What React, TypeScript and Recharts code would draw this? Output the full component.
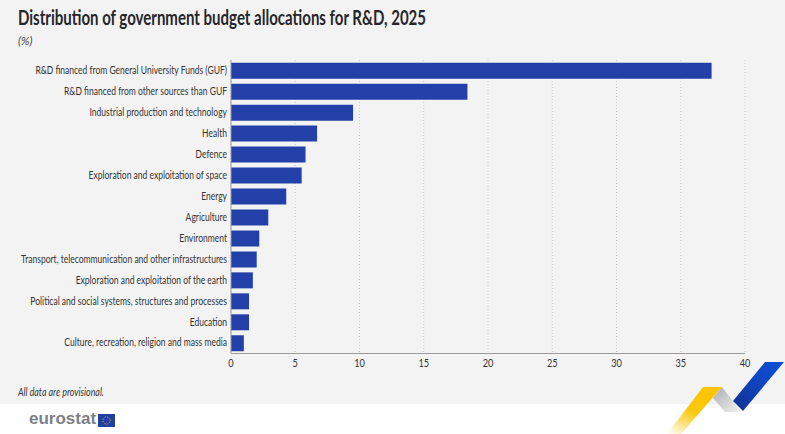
import { BarChart, Bar, XAxis, YAxis, CartesianGrid } from "recharts";

const categories = [
  "R&D financed from General University Funds (GUF)",
  "R&D financed from other sources than GUF",
  "Industrial production and technology",
  "Health",
  "Defence",
  "Exploration and exploitation of space",
  "Energy",
  "Agriculture",
  "Environment",
  "Transport, telecommunication and other infrastructures",
  "Exploration and exploitation of the earth",
  "Political and social systems, structures and processes",
  "Education",
  "Culture, recreation, religion and mass media",
];
const shares = [37.4, 18.4, 9.5, 6.7, 5.8, 5.5, 4.3, 2.9, 2.2, 2.0, 1.7, 1.4, 1.4, 1.0];
const xTicks = [0, 5, 10, 15, 20, 25, 30, 35, 40];

const chartData = categories.map((name, i) => ({ name, share: shares[i] }));

const FONT = "Lato, sans-serif";

// Lato squeezed, there is no condensed face installed
function CategoryTick({ x, y, payload }: any) {
  return (
    <text
      transform={`translate(${x + 6},${y - 1}) scale(0.775,1)`}
      textAnchor="end"
      dominantBaseline="central"
      fontFamily={FONT}
      fontSize={11}
      fill="#333"
    >
      {payload.value}
    </text>
  );
}

function ValueTick({ x, y, payload }: any) {
  return (
    <text
      transform={`translate(${x},${y + 1}) scale(0.8,1)`}
      textAnchor="middle"
      dominantBaseline="central"
      fontFamily={FONT}
      fontSize={11.5}
      fill="#333"
    >
      {payload.value}
    </text>
  );
}

function Logo() {
  return (
    <svg width={785} height={434} style={{ position: "absolute", left: 0, top: 0 }}>
      <defs>
        <linearGradient id="yellowFade" x1="0" y1="1" x2="0.6" y2="0">
          <stop offset="0" stopColor="#ffffff" />
          <stop offset="0.55" stopColor="#fbc80f" />
          <stop offset="1" stopColor="#fdc500" />
        </linearGradient>
        <linearGradient id="greyFade" x1="0" y1="0" x2="1" y2="1">
          <stop offset="0" stopColor="#a9abb0" />
          <stop offset="1" stopColor="#f3f3f3" />
        </linearGradient>
        <linearGradient id="blueFade" x1="0" y1="1" x2="1" y2="0">
          <stop offset="0" stopColor="#12308f" />
          <stop offset="0.6" stopColor="#0f47c4" />
          <stop offset="1" stopColor="#0e4fd6" />
        </linearGradient>
      </defs>
      <polygon points="667,434 703,387 722,387 681,434" fill="url(#yellowFade)" />
      <polygon points="713,398 722,387 741,412 725,412" fill="url(#greyFade)" />
      <polygon points="733,401 765,362 784,362 743,411" fill="url(#blueFade)" />
      <rect x={98} y={414} width={17} height={13} fill="#23409f" />
      <circle cx={106.5} cy={420.5} r={3.6} fill="none" stroke="#e8d44a" strokeWidth={0.8} strokeDasharray="0.9 1" />
    </svg>
  );
}

export default function App() {
  return (
    <div style={{ position: "absolute", left: 0, top: 0, width: 785, height: 434, background: "#ffffff", overflow: "hidden" }}>
      <div style={{ position: "absolute", left: 0, top: 0, width: 785, height: 404, background: "#f3f3f4" }} />
      <div style={{ position: "absolute", left: 18, top: 5, fontFamily: FONT, fontWeight: 700, fontSize: 20.5, color: "#26262b", whiteSpace: "nowrap", transform: "scaleX(0.733)", transformOrigin: "left top" }}>
        Distribution of government budget allocations for R&amp;D, 2025
      </div>
      <div style={{ position: "absolute", left: 18, top: 34, fontFamily: FONT, fontStyle: "italic", fontSize: 11.5, color: "#444" }}>
        (%)
      </div>
      <div style={{ position: "absolute", left: 0, top: 0 }}>
        <BarChart
          width={785}
          height={434}
          data={chartData}
          layout="vertical"
          barCategoryGap="13%"
          margin={{ top: 60, right: 40, bottom: 54.5, left: 0 }}
        >
          <CartesianGrid horizontal={false} stroke="#c9c9c9" strokeDasharray="1 2" />
          <XAxis
            type="number"
            domain={[0, 40]}
            ticks={xTicks}
            height={26}
            axisLine={{ stroke: "#9a9a9a" }}
            tickLine={false}
            tick={<ValueTick />}
          />
          <YAxis
            type="category"
            dataKey="name"
            width={231}
            interval={0}
            axisLine={{ stroke: "#9a9a9a" }}
            tickLine={false}
            tick={<CategoryTick />}
            tickMargin={4}
          />
          <Bar dataKey="share" fill="#2340a8" isAnimationActive={false} />
        </BarChart>
      </div>
      <div style={{ position: "absolute", left: 18, top: 385, fontFamily: FONT, fontStyle: "italic", fontSize: 11.5, color: "#333", transform: "scaleX(0.77)", transformOrigin: "left top" }}>
        All data are provisional.
      </div>
      <div style={{ position: "absolute", left: 29, top: 409, fontFamily: '"Liberation Sans", sans-serif', fontWeight: 700, fontSize: 17, color: "#7d7f85" }}>
        eurostat
      </div>
      <Logo />
    </div>
  );
}
